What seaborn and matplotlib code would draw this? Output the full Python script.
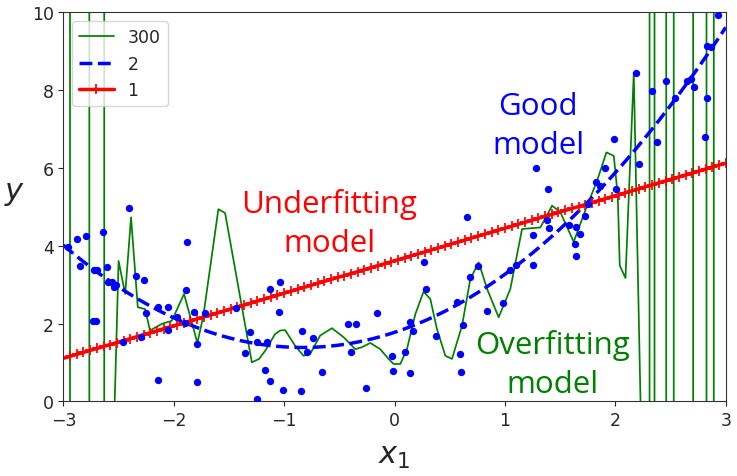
import matplotlib
matplotlib.use("Agg")
import matplotlib.pyplot as plt
import seaborn as sns

# training points
x_pts = [-2.956, -2.874, -2.795, -2.850, -2.723, -2.693, -2.638, -2.607, -2.729, -2.707,
         -2.598, -2.562, -2.539, -2.523, -2.403, -2.345, -2.269, -2.254, -2.457, -2.294,
         -2.140, -2.142, -2.049, -2.054, -1.973, -1.898, -1.879, -1.888, -1.816, -1.792,
         -1.786, -1.716, -1.435, -1.354, -1.309, -1.127, -1.036, -1.045, -1.242, -1.157,
         -1.172, -1.127, -1.015, -1.242, -0.849, -0.840, -0.743, -0.789, -0.658, -0.426,
         -0.347, -0.395, -0.257, -0.160, -0.024, -0.015, 0.097, 0.136, 0.142, 0.163,
         0.263, 0.287, 0.375, 0.596, 0.602, 0.620, 0.566, 0.656, 0.680, 0.753,
         0.838, 0.983, 1.043, 1.103, 1.251, 1.251, 1.382, 1.403, 1.578, 1.647,
         1.638, 1.647, 1.677, 1.729, 1.750, 1.285, 1.391, 1.986, 1.910, 1.829,
         1.859, 2.010, 2.191, 2.212, 2.334, 2.463, 2.379, 2.536, 2.645, 2.687,
         2.711, 2.808, 2.826, 2.826, 2.868, 2.928]
y_pts = [3.96, 4.17, 4.26, 3.47, 3.38, 3.38, 4.34, 3.46, 2.07, 2.07,
         3.06, 3.07, 2.93, 2.99, 4.96, 3.23, 3.13, 2.26, 1.52, 1.65,
         0.55, 2.42, 2.42, 1.84, 2.16, 2.01, 4.09, 2.87, 2.30, 0.50,
         1.47, 2.27, 2.39, 1.24, 1.77, 2.90, 3.06, 2.29, 1.53, 1.53,
         0.80, 0.53, 0.30, 0.06, 0.27, 1.80, 1.62, 1.26, 0.76, 1.99,
         1.99, 1.28, 0.34, 2.26, 1.16, 0.79, 1.28, 0.72, 2.05, 1.82,
         3.59, 2.90, 1.67, 1.22, 0.76, 1.97, 2.56, 4.73, 3.19, 3.49,
         2.33, 2.53, 3.38, 3.50, 4.27, 3.51, 4.67, 4.45, 4.53, 4.47,
         4.04, 3.73, 4.30, 4.77, 5.07, 5.99, 5.46, 6.74, 5.99, 5.65,
         5.54, 5.46, 8.43, 6.10, 7.98, 8.23, 6.67, 7.79, 8.23, 8.29,
         8.07, 6.79, 7.79, 9.14, 9.12, 9.94]

# degree 300 curve, vertices (values outside 0..10 get clipped)
green_x = [-2.94, -2.94, -2.765, -2.765, -2.63, -2.63, -2.535, -2.50, -2.44, -2.387,
           -2.326, -2.26, -2.215, -2.109, -2.018, -1.907, -1.786, -1.732, -1.596, -1.535,
           -1.293, -1.227, -1.172, -1.082, -1.036, -0.991, -0.901, -0.825, -0.764, -0.674,
           -0.568, -0.462, -0.356, -0.296, -0.220, -0.130, -0.054, -0.009, 0.052, 0.112,
           0.188, 0.263, 0.324, 0.384, 0.460, 0.520, 0.611, 0.686, 0.762, 0.838,
           0.943, 1.049, 1.155, 1.321, 1.427, 1.502, 1.623, 1.744, 1.835, 1.919,
           1.986, 2.022, 2.040, 2.092, 2.167, 2.228, 2.31, 2.31, 2.355, 2.355,
           2.461, 2.461, 2.529, 2.529, 2.705, 2.705, 2.826, 2.826, 2.892, 2.892]
green_y = [15, -5, -5, 15, 15, -5, 0, 3.61, 2.76, 4.73,
           2.42, 2.37, 1.82, 1.99, 2.07, 2.76, 1.50, 2.20, 4.94, 4.84,
           1.00, 1.09, 1.30, 1.73, 1.82, 1.83, 1.43, 1.17, 1.22, 1.69,
           1.88, 1.65, 1.34, 1.39, 1.50, 1.34, 1.09, 0.96, 0.96, 1.34,
           2.24, 2.82, 2.63, 1.86, 1.17, 1.09, 1.94, 3.14, 3.57, 2.89,
           2.16, 2.89, 4.43, 4.47, 5.03, 4.86, 4.10, 5.03, 5.67, 6.40,
           6.31, 5.29, 3.49, 3.17, 8.44, 0, -5, 15, 15, -5,
           -5, 15, 15, -5, -5, 15, 15, -5, -5, 15]

sns.set_style("ticks")
plt.rcParams["font.family"] = ["DejaVu Sans"]
plt.rcParams["mathtext.fontset"] = "dejavusans"

fig = plt.figure(figsize=(7.37, 4.77), dpi=100)
ax = fig.add_axes([0.086, 0.1566, 0.8987, 0.8154])
ax.set_xlim(-3, 3)
ax.set_ylim(0, 10)

sns.lineplot(x=green_x, y=green_y, sort=False, estimator=None, color="g",
             lw=1.25, label="300", ax=ax)
# the quadratic and the linear fit are done by seaborn over the whole x range
sns.regplot(x=x_pts, y=y_pts, order=2, ci=None, scatter=False, truncate=False,
            color="b", label="2", line_kws=dict(ls="--", lw=2.5), ax=ax)
sns.regplot(x=x_pts, y=y_pts, order=1, ci=None, scatter=False, truncate=False,
            color="r", label="1",
            line_kws=dict(ls="-", lw=2.5, marker="+", ms=7.5, mew=1.25), ax=ax)
sns.scatterplot(x=x_pts, y=y_pts, color="b", s=28, linewidth=0, zorder=5, ax=ax)

ax.set_xlim(-3, 3)
ax.set_ylim(0, 10)
ax.set_xticks([-3, -2, -1, 0, 1, 2, 3])
ax.set_yticks([0, 2, 4, 6, 8, 10])
ax.tick_params(labelsize=12.5, length=3.5, colors="0.15")
for s in ax.spines.values():
    s.set_color("0.2")

ax.set_xlabel("$x_1$", fontsize=22, va="center")
ax.xaxis.set_label_coords(0.5, -0.14)
ax.set_ylabel("$y$", fontsize=22, rotation=0, va="center", ha="center")
ax.yaxis.set_label_coords(-0.073, 0.538)

ax.legend(loc="upper left", fontsize=12.5)

ax.text(-0.59, 4.58, "Underfitting\nmodel", color="red", fontsize=22.5,
        family="Open Sans", ha="center", va="center", linespacing=1.38)
ax.text(1.3, 7.1, "Good\nmodel", color="blue", fontsize=22.5,
        family="Open Sans", ha="center", va="center", linespacing=1.38)
ax.text(1.43, 0.95, "Overfitting\nmodel", color="green", fontsize=22.5,
        family="Open Sans", ha="center", va="center", linespacing=1.38)

fig.savefig("out.png", dpi=100)
